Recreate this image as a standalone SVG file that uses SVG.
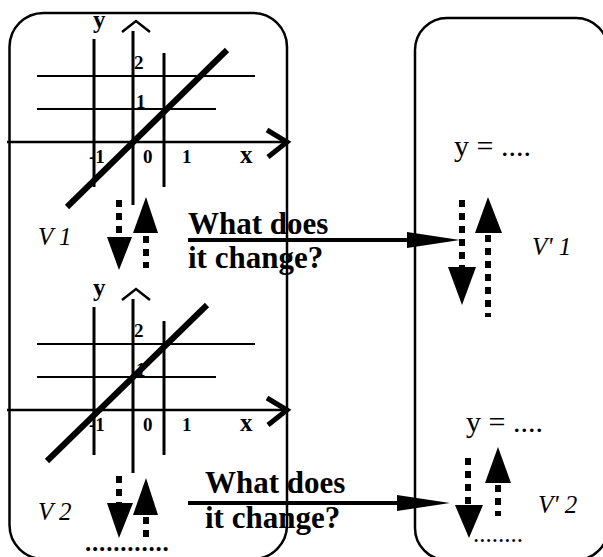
<svg xmlns="http://www.w3.org/2000/svg" width="603" height="557" viewBox="0 0 603 557">
<style>
.box{fill:none;stroke:#000;stroke-width:2.5}
.grid{stroke:#000;stroke-width:2}
.vert{stroke:#000;stroke-width:3}
.axis{stroke:#000;stroke-width:2.5}
.chev{fill:none;stroke:#000;stroke-width:5}
.caret{fill:none;stroke:#000;stroke-width:2.5}
.fn{stroke:#000;stroke-width:6}
.dash{stroke:#000;stroke-width:6;stroke-dasharray:7 6}
.head{fill:#000}
.serif{font-family:"Liberation Serif","Times New Roman",serif;fill:#000}
.lbl{font-weight:bold;font-size:19px}
.axl{font-weight:bold;font-size:25px}
.v{font-style:italic;font-size:25px}
.q{font-weight:bold;font-size:31px}
.eq{font-size:30px}
.conn{stroke:#000;stroke-width:4;fill:none}
</style>
<defs>
<marker id="arr" markerUnits="userSpaceOnUse" markerWidth="54" markerHeight="18" refX="0" refY="8" orient="auto">
<path d="M0,0 L53,8 L0,16 Z" fill="#000"/>
</marker>
<g id="axes">
<line class="grid" x1="37" y1="76" x2="255" y2="76"/>
<line class="grid" x1="37" y1="109" x2="216" y2="109"/>
<line class="vert" x1="94" y1="39" x2="94" y2="187"/>
<line class="vert" x1="133" y1="31" x2="133" y2="205"/>
<line class="vert" x1="164" y1="53" x2="164" y2="187"/>
<line class="axis" x1="7" y1="142" x2="288" y2="142"/>
<polyline class="chev" points="267,130 287,142 268,157"/>
<polyline class="caret" points="122,32 136,21 150,32"/>
<text class="serif axl" x="93" y="28">y</text>
<text class="serif lbl" x="134" y="69">2</text>
<text class="serif lbl" x="136" y="108">1</text>
<text class="serif lbl" x="89" y="163">-1</text>
<text class="serif lbl" x="143" y="163">0</text>
<text class="serif lbl" x="182" y="163">1</text>
<text class="serif axl" x="240" y="163">x</text>
</g>
</defs>

<g id="node-left">
<rect class="box" x="9.5" y="13" width="277.5" height="546" rx="34"/>
</g>

<g id="graph-1">
<use href="#axes"/>
<line class="fn" x1="67" y1="207" x2="227" y2="50"/>
</g>

<g id="graph-2">
<use href="#axes" y="268"/>
<line class="fn" x1="47" y1="461" x2="207" y2="305"/>
</g>

<g id="node-v1">
<line class="dash" x1="119" y1="200" x2="119" y2="237"/>
<polygon class="head" points="107,237 132,237 119,270"/>
<polygon class="head" points="146,197 133,233 158,233"/>
<line class="dash" x1="146" y1="236" x2="146" y2="268"/>
<text class="serif v" x="38" y="245">V 1</text>
</g>

<g id="node-v2">
<line class="dash" x1="119" y1="476" x2="119" y2="503"/>
<polygon class="head" points="107,503 133,503 119,538"/>
<polygon class="head" points="146,478 133,515 158,515"/>
<line class="dash" x1="146" y1="517" x2="146" y2="537"/>
<text class="serif v" x="38" y="520">V 2</text>
<text class="serif" font-weight="bold" font-size="25" letter-spacing="0.8" x="85" y="551">............</text>
</g>

<g id="node-right">
<rect class="box" x="415" y="18" width="193" height="542" rx="32"/>
</g>

<g id="node-v1p">
<text class="serif eq" x="454" y="156">y = ....</text>
<line class="dash" x1="462" y1="200" x2="462" y2="267"/>
<polygon class="head" points="448,267 476,267 462,305"/>
<polygon class="head" points="488,197 475,233 502,233"/>
<line class="dash" x1="488" y1="235" x2="488" y2="317"/>
<text class="serif v" x="532" y="255">V' 1</text>
</g>

<g id="node-v2p">
<text class="serif eq" x="466" y="432">y = ....</text>
<line class="dash" x1="468" y1="458" x2="468" y2="505"/>
<polygon class="head" points="455,505 483,505 469,538"/>
<polygon class="head" points="498,447 485,483 511,483"/>
<line class="dash" x1="498" y1="485" x2="498" y2="516"/>
<text class="serif v" x="538" y="513">V' 2</text>
<text class="serif" font-size="25" x="473" y="542">........</text>
</g>

<g id="connectors">
<line class="conn" x1="188" y1="240" x2="407" y2="240" marker-end="url(#arr)"/>
<line class="conn" x1="188" y1="503" x2="397" y2="503" marker-end="url(#arr)"/>
</g>

<g id="labels">
<text class="serif q" x="188" y="234">What does</text>
<text class="serif q" x="188" y="268">it change?</text>
<text class="serif q" x="205" y="493">What does</text>
<text class="serif q" x="205" y="528">it change?</text>
</g>
</svg>
